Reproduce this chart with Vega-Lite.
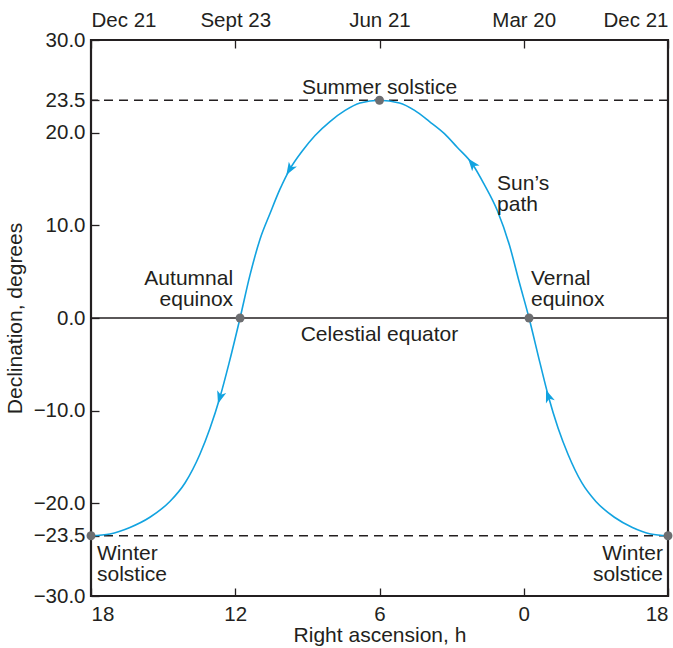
{
  "$schema": "https://vega.github.io/schema/vega-lite/v6.json",
  "width": 577,
  "height": 556,
  "autosize": "none",
  "padding": {"left": 91, "top": 40, "right": 5, "bottom": 52},
  "background": "white",
  "config": {
    "view": {"stroke": "#231f20", "strokeWidth": 2.2},
    "font": "Liberation Sans",
    "axis": {"labelFont": "Liberation Sans", "titleFont": "Liberation Sans", "labelFontSize": 20.5, "titleFontSize": 21, "labelColor": "#231f20", "titleColor": "#231f20", "titleFontWeight": "normal", "domain": false, "grid": false, "tickColor": "#231f20", "tickWidth": 1.3}
  },
  "datasets": {
    "path": [
      {"ra": 18, "dec": -23.5}, {"ra": 17.21, "dec": -23.3}, {"ra": 16.38, "dec": -22.6}, {"ra": 15.55, "dec": -21.5},
      {"ra": 14.72, "dec": -19.8}, {"ra": 14.09, "dec": -17.8}, {"ra": 13.47, "dec": -14.7}, {"ra": 13.05, "dec": -11.9},
      {"ra": 12.63, "dec": -8.5}, {"ra": 12.26, "dec": -4.9}, {"ra": 11.8, "dec": 0}, {"ra": 11.39, "dec": 4.6},
      {"ra": 10.97, "dec": 8.5}, {"ra": 10.55, "dec": 11.3}, {"ra": 10.14, "dec": 13.9}, {"ra": 9.72, "dec": 16.1},
      {"ra": 9.22, "dec": 18.0}, {"ra": 8.68, "dec": 19.7}, {"ra": 8.06, "dec": 21.2}, {"ra": 7.43, "dec": 22.4},
      {"ra": 6.81, "dec": 23.2}, {"ra": 6.0, "dec": 23.5},
      {"ra": 5.17, "dec": 23.2}, {"ra": 4.54, "dec": 22.4}, {"ra": 3.92, "dec": 21.2}, {"ra": 3.3, "dec": 19.9},
      {"ra": 2.76, "dec": 18.4}, {"ra": 2.13, "dec": 16.6}, {"ra": 1.64, "dec": 14.4}, {"ra": 1.1, "dec": 11.6},
      {"ra": 0.6, "dec": 7.9}, {"ra": 0.18, "dec": 3.8}, {"ra": -0.22, "dec": 0}, {"ra": -0.68, "dec": -4.9},
      {"ra": -1.03, "dec": -8.5}, {"ra": -1.43, "dec": -11.9}, {"ra": -1.84, "dec": -14.7}, {"ra": -2.42, "dec": -17.8},
      {"ra": -3.0, "dec": -19.8}, {"ra": -3.77, "dec": -21.5}, {"ra": -4.52, "dec": -22.6}, {"ra": -5.28, "dec": -23.3},
      {"ra": -6, "dec": -23.5}
    ],
    "events": [
      {"ra": 18, "dec": -23.5}, {"ra": 6, "dec": 23.5}, {"ra": 11.8, "dec": 0}, {"ra": -0.22, "dec": 0}, {"ra": -6, "dec": -23.5}
    ]
  },
  "layer": [
    {
      "data": {"values": [{"dec": 23.5}, {"dec": -23.5}]},
      "mark": {"type": "rule", "color": "#231f20", "strokeWidth": 1.3, "strokeDash": [9, 6]},
      "encoding": {"y": {"field": "dec", "type": "quantitative", "scale": {"domain": [-30, 30], "nice": false},
          "axis": {"title": "Declination, degrees", "values": [30, 23.5, 20, 10, 0, -10, -20, -23.5, -30], "format": ".1f", "tickSize": -8, "labelPadding": 14, "titlePadding": 8, "labelFlush": false}}}
    },
    {
      "data": {"values": [{"dec": 0}]},
      "mark": {"type": "rule", "color": "#231f20", "strokeWidth": 1.3},
      "encoding": {"y": {"field": "dec", "type": "quantitative",
          "axis": {"title": "Declination, degrees", "values": [30, 23.5, 20, 10, 0, -10, -20, -23.5, -30], "format": ".1f", "tickSize": -8, "labelPadding": 14, "titlePadding": 8, "labelFlush": false}}}
    },
    {
      "data": {"name": "path"},
      "mark": {"type": "line", "color": "#12a3e0", "strokeWidth": 1.6, "interpolate": "monotone"},
      "encoding": {
        "x": {"field": "ra", "type": "quantitative", "scale": {"domain": [18, -6], "nice": false, "zero": false},
          "axis": {"orient": "bottom", "title": "Right ascension, h", "values": [18, 12, 6, 0, -6], "labelExpr": "datum.value < 0 ? datum.value + 24 : datum.value", "tickSize": -8, "labelPadding": 16, "titlePadding": 0, "labelFlush": true}},
        "y": {"field": "dec", "type": "quantitative",
          "axis": {"title": "Declination, degrees", "values": [30, 23.5, 20, 10, 0, -10, -20, -23.5, -30], "format": ".1f", "tickSize": -8, "labelPadding": 14, "titlePadding": 8, "labelFlush": false}}
      }
    },
    {
      "data": {"values": [{"ra": 18}, {"ra": 12}, {"ra": 6}, {"ra": 0}, {"ra": -6}]},
      "mark": {"type": "point", "opacity": 0},
      "encoding": {
        "x": {"field": "ra", "type": "quantitative",
          "axis": {"orient": "top", "title": null, "values": [18, 12, 6, 0, -6], "labelExpr": "datum.value == 18 ? 'Dec 21' : datum.value == 12 ? 'Sept 23' : datum.value == 6 ? 'Jun 21' : datum.value == 0 ? 'Mar 20' : 'Dec 21'", "tickSize": -8, "labelPadding": 18, "labelFlush": true}}
      }
    },
    {
      "data": {"name": "events"},
      "mark": {"type": "point", "filled": true, "color": "#6d6e71", "size": 80, "opacity": 1, "clip": false},
      "encoding": {"x": {"field": "ra", "type": "quantitative", "axis": null}, "y": {"field": "dec", "type": "quantitative",
          "axis": {"title": "Declination, degrees", "values": [30, 23.5, 20, 10, 0, -10, -20, -23.5, -30], "format": ".1f", "tickSize": -8, "labelPadding": 14, "titlePadding": 8, "labelFlush": false}}}
    },
    {
      "data": {"values": [{"ra": 9.72, "dec": 16.1}]},
      "mark": {"type": "point", "filled": true, "opacity": 1, "color": "#12a3e0", "size": 210, "angle": 211, "shape": "M0,-1L0.65,0.75L0,0.3L-0.65,0.75Z"},
      "encoding": {"x": {"field": "ra", "type": "quantitative", "axis": null}, "y": {"field": "dec", "type": "quantitative",
          "axis": {"title": "Declination, degrees", "values": [30, 23.5, 20, 10, 0, -10, -20, -23.5, -30], "format": ".1f", "tickSize": -8, "labelPadding": 14, "titlePadding": 8, "labelFlush": false}}}
    },
    {
      "data": {"values": [{"ra": 12.63, "dec": -8.5}]},
      "mark": {"type": "point", "filled": true, "opacity": 1, "color": "#12a3e0", "size": 210, "angle": 197, "shape": "M0,-1L0.65,0.75L0,0.3L-0.65,0.75Z"},
      "encoding": {"x": {"field": "ra", "type": "quantitative", "axis": null}, "y": {"field": "dec", "type": "quantitative",
          "axis": {"title": "Declination, degrees", "values": [30, 23.5, 20, 10, 0, -10, -20, -23.5, -30], "format": ".1f", "tickSize": -8, "labelPadding": 14, "titlePadding": 8, "labelFlush": false}}}
    },
    {
      "data": {"values": [{"ra": -1.03, "dec": -8.5}]},
      "mark": {"type": "point", "filled": true, "opacity": 1, "color": "#12a3e0", "size": 210, "angle": 340, "shape": "M0,-1L0.65,0.75L0,0.3L-0.65,0.75Z"},
      "encoding": {"x": {"field": "ra", "type": "quantitative", "axis": null}, "y": {"field": "dec", "type": "quantitative",
          "axis": {"title": "Declination, degrees", "values": [30, 23.5, 20, 10, 0, -10, -20, -23.5, -30], "format": ".1f", "tickSize": -8, "labelPadding": 14, "titlePadding": 8, "labelFlush": false}}}
    },
    {
      "data": {"values": [{"ra": 2.13, "dec": 16.6}]},
      "mark": {"type": "point", "filled": true, "opacity": 1, "color": "#12a3e0", "size": 210, "angle": 322, "shape": "M0,-1L0.65,0.75L0,0.3L-0.65,0.75Z"},
      "encoding": {"x": {"field": "ra", "type": "quantitative", "axis": null}, "y": {"field": "dec", "type": "quantitative",
          "axis": {"title": "Declination, degrees", "values": [30, 23.5, 20, 10, 0, -10, -20, -23.5, -30], "format": ".1f", "tickSize": -8, "labelPadding": 14, "titlePadding": 8, "labelFlush": false}}}
    },
    {
      "data": {"values": [{"ra": 6, "dec": 26.0, "label": "Summer solstice"}, {"ra": 6, "dec": -0.6, "label": "Celestial equator"}]},
      "mark": {"type": "text", "align": "center", "baseline": "top", "fontSize": 21, "color": "#231f20", "font": "Liberation Sans"},
      "encoding": {"x": {"field": "ra", "type": "quantitative", "axis": null}, "y": {"field": "dec", "type": "quantitative",
          "axis": {"title": "Declination, degrees", "values": [30, 23.5, 20, 10, 0, -10, -20, -23.5, -30], "format": ".1f", "tickSize": -8, "labelPadding": 14, "titlePadding": 8, "labelFlush": false}}, "text": {"field": "label"}}
    },
    {
      "data": {"values": [{"ra": 1.11, "dec": 15.7, "label": "Sun’s\npath"}, {"ra": -0.3, "dec": 5.4, "label": "Vernal\nequinox"}, {"ra": 17.75, "dec": -24.3, "label": "Winter\nsolstice"}]},
      "mark": {"type": "text", "align": "left", "baseline": "top", "fontSize": 21, "lineHeight": 21, "lineBreak": "\n", "color": "#231f20", "font": "Liberation Sans"},
      "encoding": {"x": {"field": "ra", "type": "quantitative", "axis": null}, "y": {"field": "dec", "type": "quantitative",
          "axis": {"title": "Declination, degrees", "values": [30, 23.5, 20, 10, 0, -10, -20, -23.5, -30], "format": ".1f", "tickSize": -8, "labelPadding": 14, "titlePadding": 8, "labelFlush": false}}, "text": {"field": "label"}}
    },
    {
      "data": {"values": [{"ra": 12.09, "dec": 5.4, "label": "Autumnal\nequinox"}, {"ra": -5.79, "dec": -24.3, "label": "Winter\nsolstice"}]},
      "mark": {"type": "text", "align": "right", "baseline": "top", "fontSize": 21, "lineHeight": 21, "lineBreak": "\n", "color": "#231f20", "font": "Liberation Sans"},
      "encoding": {"x": {"field": "ra", "type": "quantitative", "axis": null}, "y": {"field": "dec", "type": "quantitative",
          "axis": {"title": "Declination, degrees", "values": [30, 23.5, 20, 10, 0, -10, -20, -23.5, -30], "format": ".1f", "tickSize": -8, "labelPadding": 14, "titlePadding": 8, "labelFlush": false}}, "text": {"field": "label"}}
    }
  ]
}
